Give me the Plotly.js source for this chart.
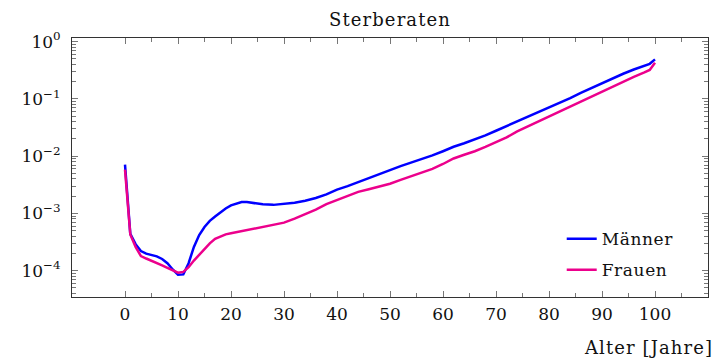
<!DOCTYPE html>
<html>
<head>
<meta charset="utf-8">
<script src="https://cdn.plot.ly/plotly-3.0.1.min.js"></script>
<style>
  html, body { margin: 0; padding: 0; background: #fff; }
  #chart { width: 718px; height: 362px; }
  .gtitle, .annotation-text { letter-spacing: 1.1px; }
  .legendtext { letter-spacing: 0.6px; }
</style>
</head>
<body>
<div id="chart"></div>
<script>
// Sterberaten nach Alter (einjährige Sterbewahrscheinlichkeiten)
const ageMen = [0, 1, 2, 3, 4, 5, 6, 7, 8, 9, 10, 11, 12, 13, 14, 15, 16, 17, 18, 19, 20,
  21, 22, 23, 24, 26, 28, 30, 32, 34, 36, 38, 40, 42, 44, 46, 48, 50, 52, 54, 56, 58, 60,
  62, 64, 66, 68, 70, 72, 74, 76, 78, 80, 82, 84, 86, 88, 90, 92, 94, 96, 98, 99, 100];
const rateMen = [0.0071, 0.00044, 0.00029, 0.00022, 0.000198, 0.00019, 0.000178, 0.00016,
  0.000135, 0.000105, 0.000085, 0.000086, 0.000135, 0.00026, 0.00042, 0.00058, 0.00074,
  0.00088, 0.00104, 0.00122, 0.00138, 0.0015, 0.00158, 0.00158, 0.00153, 0.00144, 0.00141,
  0.00146, 0.00154, 0.00166, 0.00186, 0.00215, 0.0026, 0.003, 0.0035, 0.0041, 0.0048,
  0.0057, 0.0067, 0.0077, 0.0088, 0.0103, 0.0122, 0.0146, 0.0168, 0.0195, 0.023, 0.0278,
  0.0335, 0.041, 0.049, 0.058, 0.07, 0.085, 0.103, 0.127, 0.155, 0.188, 0.226, 0.275,
  0.326, 0.38, 0.41, 0.49];

const ageWomen = [0, 1, 2, 3, 4, 5, 6, 7, 8, 9, 10, 11, 12, 13, 14, 15, 16, 17, 18, 19, 20,
  22, 24, 26, 28, 30, 32, 34, 36, 38, 40, 42, 44, 46, 48, 50, 52, 54, 56, 58, 60, 62, 64,
  66, 68, 70, 72, 74, 76, 78, 80, 82, 84, 86, 88, 90, 92, 94, 96, 98, 99, 100];
const rateWomen = [0.0058, 0.00043, 0.00026, 0.00018, 0.000163, 0.00015, 0.000137,
  0.000124, 0.000112, 0.000101, 0.000092, 0.000095, 0.000115, 0.00015, 0.00019, 0.000235,
  0.0003, 0.00036, 0.0004, 0.00043, 0.00045, 0.00049, 0.00053, 0.00057, 0.00062, 0.00069,
  0.00081, 0.00096, 0.00116, 0.00145, 0.00172, 0.00205, 0.00238, 0.00265, 0.00295, 0.0033,
  0.00385, 0.0045, 0.0052, 0.006, 0.0073, 0.0091, 0.0106, 0.0122, 0.0145, 0.0174, 0.0213,
  0.027, 0.033, 0.04, 0.049, 0.06, 0.074, 0.092, 0.111, 0.136, 0.165, 0.205, 0.243, 0.29,
  0.32, 0.43];

const seriesNames = ['Männer', 'Frauen'];

// Achsenbeschriftung
const xTickVals = [0, 10, 20, 30, 40, 50, 60, 70, 80, 90, 100];
const xTickText = ['0', '10', '20', '30', '40', '50', '60', '70', '80', '90', '100'];
const xMinorVals = [5, 15, 25, 35, 45, 55, 65, 75, 85, 95, 105];
const yExponents = [-4, -3, -2, -1, 0];
const yTickVals = yExponents.map(e => Math.pow(10, e));
const yTickText = yExponents.map(e => '10<sup>' + (e < 0 ? '\u2212' + (-e) : e) + '</sup>');
const yMinorVals = [];
[-5, -4, -3, -2, -1].forEach(e => {
  for (let m = 2; m <= 9; m++) yMinorVals.push(m * Math.pow(10, e));
});

const FONT = 'DejaVu Serif, serif';

const traces = [
  { x: ageMen, y: rateMen, name: seriesNames[0], type: 'scatter', mode: 'lines',
    legendgroup: 'm', line: { color: '#0000ff', width: 2.5 } },
  { x: ageWomen, y: rateWomen, name: seriesNames[1], type: 'scatter', mode: 'lines',
    legendgroup: 'f', line: { color: '#ec008c', width: 2.5 } }
];

const axisCommon = {
  showgrid: false, zeroline: false, showline: true, linecolor: '#333', linewidth: 1,
  mirror: 'allticks', ticks: 'inside', ticklen: 6, tickwidth: 1, tickcolor: '#777',
  tickfont: { family: FONT, size: 17, color: '#111' }
};

const layout = {
  width: 718, height: 362,
  margin: { l: 72, r: 10, t: 38, b: 65 },
  paper_bgcolor: '#fff', plot_bgcolor: '#fff',
  font: { family: FONT, size: 17, color: '#111' },
  title: { text: 'Sterberaten', x: 0.5, xref: 'paper', y: 0.945, yref: 'container',
    yanchor: 'middle', font: { family: FONT, size: 18, color: '#111' } },
  xaxis: Object.assign({}, axisCommon, {
    range: [-10, 110], tickmode: 'array', tickvals: xTickVals, ticktext: xTickText,
    ticklabelstandoff: 2,
    minor: { tickmode: 'array', tickvals: xMinorVals, ticks: 'inside', ticklen: 4,
      tickcolor: '#777', tickwidth: 1 }
  }),
  yaxis: Object.assign({}, axisCommon, {
    type: 'log', range: [-4.46, 0.064], tickmode: 'array', tickvals: yTickVals,
    ticktext: yTickText, ticklabelstandoff: 7,
    minor: { tickmode: 'array', tickvals: yMinorVals, ticks: 'inside', ticklen: 4,
      tickcolor: '#777', tickwidth: 1 }
  }),
  showlegend: true,
  legend: { x: 0.77, xanchor: 'left', y: 0.293, yanchor: 'top', bgcolor: 'rgba(0,0,0,0)',
    borderwidth: 0, tracegroupgap: 6, font: { family: FONT, size: 17, color: '#111' } },
  annotations: [
    { text: 'Alter [Jahre]', xref: 'paper', yref: 'paper', x: 1, y: 0, xanchor: 'right',
      yanchor: 'middle', xshift: 7, yshift: -50, showarrow: false,
      font: { family: FONT, size: 18, color: '#111' } }
  ]
};

Plotly.newPlot('chart', traces, layout, { displayModeBar: false, staticPlot: true });
</script>
</body>
</html>
